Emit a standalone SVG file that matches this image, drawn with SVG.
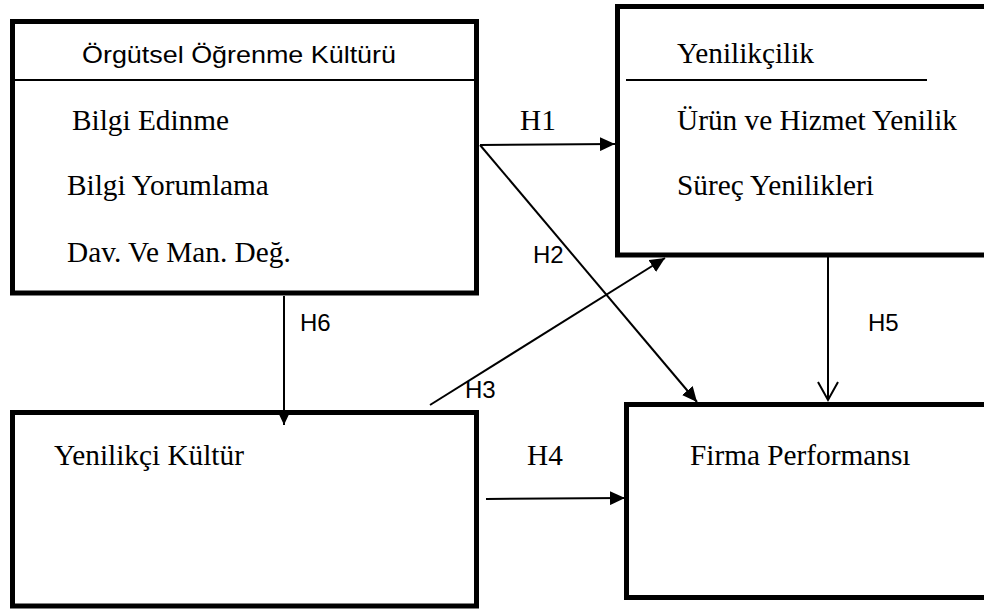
<svg xmlns="http://www.w3.org/2000/svg" width="984" height="610" viewBox="0 0 984 610">
<style>
.box{fill:#fff;stroke:#000;stroke-width:5}
.div{stroke:#000;stroke-width:1.8}
.serif{font-family:"Liberation Serif","Times New Roman",serif;font-size:29.3px;fill:#000}
.sans{font-family:"Liberation Sans",Arial,sans-serif;font-size:24px;fill:#000}
.title{font-size:24px}
.conn{stroke:#000;stroke-width:2;fill:none}
</style>
<defs>
<marker id="tri" markerWidth="16" markerHeight="14" refX="15" refY="7" orient="auto" markerUnits="userSpaceOnUse">
<path d="M0,0 L15,7 L0,14 Z" fill="#000"/>
</marker>
<marker id="open" markerWidth="22" markerHeight="24" refX="19" refY="11" orient="auto" markerUnits="userSpaceOnUse">
<path d="M1,1 L19,11 L1,21" fill="none" stroke="#000" stroke-width="2"/>
</marker>
</defs>
<rect width="984" height="610" fill="#fff"/>
<g id="orgutsel">
<rect class="box" x="12.5" y="21.5" width="464" height="271.5"/>
<line class="div" x1="14" y1="80" x2="475" y2="80"/>
<text class="sans title" x="82" y="63" textLength="314" lengthAdjust="spacingAndGlyphs">Örgütsel Öğrenme Kültürü</text>
<text class="serif" x="72" y="130">Bilgi Edinme</text>
<text class="serif" x="67" y="195">Bilgi Yorumlama</text>
<text class="serif" x="67" y="262">Dav. Ve Man. Değ.</text>
</g>
<g id="yenilikcilik">
<rect class="box" x="617.5" y="6.5" width="380" height="248.5"/>
<line class="div" x1="626" y1="80" x2="927" y2="80"/>
<text class="serif" x="677" y="63">Yenilikçilik</text>
<text class="serif" x="677" y="130">Ürün ve Hizmet Yenilik</text>
<text class="serif" x="677" y="195">Süreç Yenilikleri</text>
</g>
<g id="yenilikci-kultur">
<rect class="box" x="12.5" y="412.5" width="464" height="193.5"/>
<text class="serif" x="54" y="465">Yenilikçi Kültür</text>
</g>
<g id="firma">
<rect class="box" x="626.5" y="404.5" width="370" height="193"/>
<text class="serif" x="690" y="465">Firma Performansı</text>
</g>
<g id="connectors">
<line class="conn" x1="480" y1="145" x2="615" y2="144" marker-end="url(#tri)"/>
<line class="conn" x1="480" y1="145" x2="697" y2="402" marker-end="url(#tri)"/>
<line class="conn" x1="430" y1="405" x2="665" y2="258" marker-end="url(#tri)"/>
<line class="conn" x1="486" y1="499" x2="625" y2="498" marker-end="url(#tri)"/>
<line class="conn" x1="828" y1="257" x2="828" y2="400" marker-end="url(#open)"/>
<line class="conn" x1="284" y1="296" x2="284" y2="425" marker-end="url(#tri)"/>
<text class="serif" x="520" y="130">H1</text>
<text class="sans" x="533" y="263">H2</text>
<text class="sans" x="465" y="398">H3</text>
<text class="serif" x="527" y="465">H4</text>
<text class="sans" x="868" y="331">H5</text>
<text class="sans" x="300" y="331">H6</text>
</g>
</svg>
